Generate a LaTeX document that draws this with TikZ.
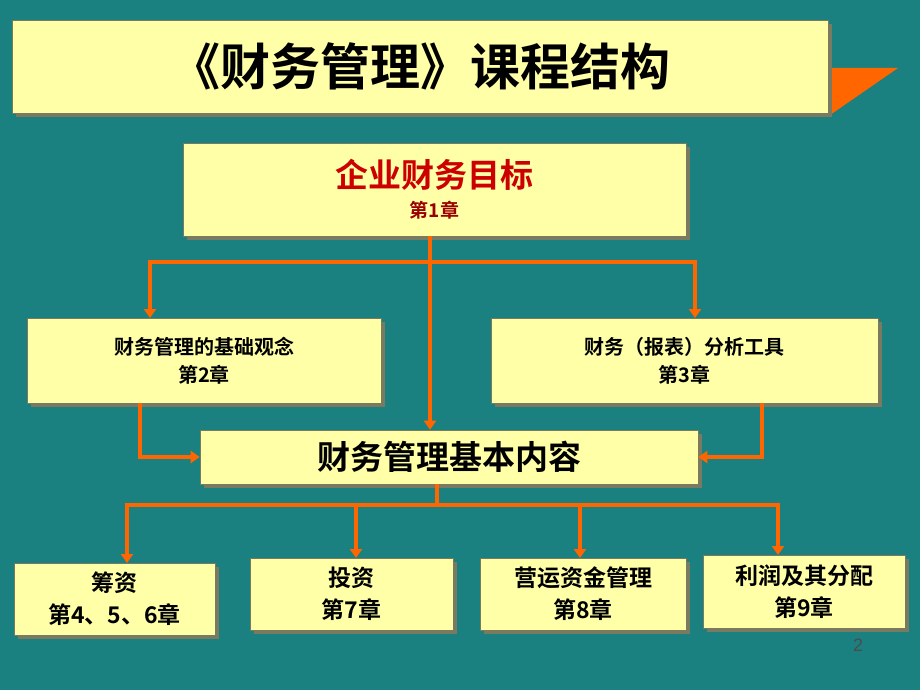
\documentclass[tikz,border=0pt]{standalone}
\usepackage{fontspec}
\setmainfont{Liberation Sans}
\newfontfamily\cjk{Noto Sans CJK SC Bold}
\usetikzlibrary{arrows.meta}
\definecolor{bg}{HTML}{1B8080}
\definecolor{bx}{HTML}{FFFFA8}
\definecolor{org}{HTML}{FF6600}
\definecolor{sh}{HTML}{7A7A60}
\tikzset{
 box/.style={fill=bx,draw=sh,line width=0.6pt,inner sep=0pt,align=center,font=\cjk\fontsize{20}{28}\selectfont},
 big/.style={font=\cjk\fontsize{23}{32}\selectfont},
 huge/.style={font=\cjk\fontsize{33}{36}\selectfont},
 con/.style={draw=org,line width=3.5pt},
 arr/.style={con,-{Triangle[length=9pt,width=12pt]}}
}
\newcommand{\mybx}[7][]{%
 \fill[sh] (#3+4,#4+4) rectangle (#5+4,#6+4);
 \node[box,#1,minimum width=#5-#3,minimum height=#6-#4] (#2) at ({(#3+#5)/2},{(#4+#6)/2}) {#7};}
\begin{document}
\begin{tikzpicture}[x=1pt,y=-1pt]
\fill[bg] (0,0) rectangle (920,690);
\useasboundingbox (0,0) rectangle (920,690);
\fill[org] (830,68) -- (898,68) -- (830,115) -- cycle;
\mybx[font=\cjk\fontsize{50}{54}\selectfont]{title}{12}{20}{828}{113}{《财务管理》课程结构}
\mybx[font=\cjk\fontsize{33}{36}\selectfont]{top}{183}{143}{686}{236}{\textcolor[HTML]{CC0000}{企业财务目标}\\[-6pt]\fontsize{19}{22}\selectfont\textcolor[HTML]{990000}{第1章}}
\mybx{left}{27}{318}{381}{403}{财务管理的基础观念\\第2章}
\mybx{right}{491}{318}{878}{403}{财务（报表）分析工具\\第3章}
\mybx[huge]{mid}{200}{430}{698}{484}{财务管理基本内容}
\mybx[big]{bA}{14}{563}{215}{635}{筹资\\第4、5、6章}
\mybx[big]{bB}{250}{558}{453}{630}{投资\\第7章}
\mybx[big]{bC}{480}{558}{686}{630}{营运资金管理\\第8章}
\mybx[big]{bD}{703}{555}{905}{628}{利润及其分配\\第9章}
\coordinate (j1) at (430,262);
\coordinate (j2) at (437,505);
\draw[arr] (top.south -| j1) -- (mid.north -| j1);
\draw[con] (150,262) -- (695,262);
\draw[arr] (150,260.25) -- (150,318);
\draw[arr] (695,260.25) -- (695,318);
\draw[arr] (140,403) |- (mid.west);
\draw[arr] (762,403) |- (mid.east);
\draw[con] (mid.south -| j2) -- (j2);
\draw[con] (127,505) -- (778,505);
\draw[arr] (127,503.25) -- (127,563);
\draw[arr] (356,503.25) -- (356,558);
\draw[arr] (580,503.25) -- (580,558);
\draw[arr] (778,503.25) -- (778,555);
\node[font=\fontsize{18}{20}\selectfont,text=black!70] (pg) at (858,645) {2};
\end{tikzpicture}
\end{document}
